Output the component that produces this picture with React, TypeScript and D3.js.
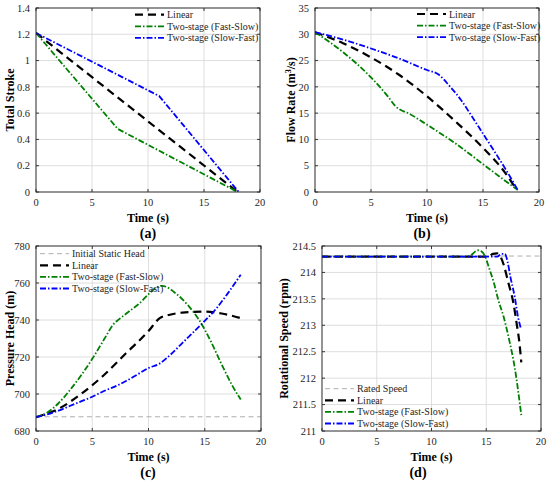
import React from 'react'
import * as d3 from 'd3'

type Pt = [number, number]

// time axis shared by all four panels
const timeTicks = [0, 5, 10, 15, 20]

// (a) total stroke
const strokeTicks = [0, 0.2, 0.4, 0.6, 0.8, 1, 1.2, 1.4]
const strokeLinear: Pt[] = [[0, 1.21], [18, 0]]
const strokeFastSlow: Pt[] = [[0, 1.21], [7.3, 0.48], [18, 0]]
const strokeSlowFast: Pt[] = [[0, 1.21], [11, 0.73], [18.1, 0]]

// (b) flow rate
const flowTicks = [0, 5, 10, 15, 20, 25, 30, 35]
const flowLinear: Pt[] = [
  [0, 30.4], [2.5, 28.3], [5, 25.6], [7.5, 22.3], [10, 18.2],
  [12.5, 13.5], [15, 8.4], [17, 3.6], [18, 0.4],
]
const flowFastSlow: Pt[] = [
  [0, 30.4], [2.5, 26.6], [5, 21.8], [6.5, 18.2], [7.2, 16.3], [8.5, 14.8],
  [10, 12.8], [12.5, 9.3], [15, 5.3], [17, 2.1], [18.1, 0.4],
]
const flowSlowFast: Pt[] = [
  [0, 30.4], [2.5, 29.0], [5, 27.3], [7.5, 25.4], [10, 23.2], [11, 22.4],
  [12, 20.2], [13, 17.6], [14, 14.4], [15, 11.1], [16, 7.8], [17, 4.4], [18.1, 0.4],
]

// (c) pressure head
const headTicks = [680, 700, 720, 740, 760, 780]
const initialHead: Pt[] = [[0, 687.7], [20, 687.7]]
const headLinear: Pt[] = [
  [0, 687.5], [2, 692], [4, 700], [6, 710], [8, 722], [10, 734], [11, 741],
  [12, 743], [13, 744], [15, 744.5], [16.5, 743.5], [18.2, 741],
]
const headFastSlow: Pt[] = [
  [0, 687.5], [1, 690], [2, 695], [3, 702], [4, 710], [5, 719], [6, 729],
  [7, 738.5], [7.4, 740.5], [9, 748], [11.2, 758.5], [12.5, 754], [13.5, 748],
  [14.5, 740], [15.5, 729], [16.5, 716], [17.5, 704], [18.2, 697],
]
const headSlowFast: Pt[] = [
  [0, 687.5], [1, 689], [2, 691], [3, 693.5], [4, 696], [5, 698.5], [6, 701.5],
  [7, 704], [8, 707], [9, 710.5], [10, 714], [11, 716.5], [12, 721.5],
  [13, 727.5], [14, 733.5], [15, 739.5], [16, 746], [17, 754], [18.2, 764.5],
]

// (d) rotational speed
const speedTicks = [211, 211.5, 212, 212.5, 213, 213.5, 214, 214.5]
const ratedSpeed: Pt[] = [[0, 214.31], [20, 214.31]]
const speedLinear: Pt[] = [
  [0, 214.3], [15.2, 214.3], [15.6, 214.35], [16.0, 214.36], [16.3, 214.3],
  [16.6, 214.14], [17, 213.82], [17.5, 213.4], [17.8, 213.0], [18, 212.72], [18.2, 212.3],
]
const speedFastSlow: Pt[] = [
  [0, 214.3], [13.4, 214.3], [13.8, 214.36], [14.2, 214.42], [14.6, 214.39],
  [14.9, 214.3], [15.2, 214.12], [15.7, 213.8], [16.1, 213.48], [16.6, 213.15],
  [17.1, 212.72], [17.6, 212.2], [18.2, 211.3],
]
const speedSlowFast: Pt[] = [
  [0, 214.3], [16.0, 214.3], [16.4, 214.35], [16.7, 214.35], [16.95, 214.2],
  [17.2, 213.92], [17.6, 213.54], [17.9, 213.16], [18.15, 212.95],
]

const FONT = '"Liberation Serif", "Times New Roman", serif'
const GREEN = '#008000'
const BLUE = '#0000ff'

const styles = {
  gray: { stroke: '#a6a6a6', width: 0.9, dash: '5,3.5' },
  linear: { stroke: '#000', width: 2.2, dash: '8,5' },
  fastSlow: { stroke: GREEN, width: 1.8, dash: '6,2,1.5,2' },
  slowFast: { stroke: BLUE, width: 1.8, dash: '6,2,1.5,2' },
}

type Style = { stroke: string; width: number; dash: string }
type Series = { label: string; data: Pt[]; style: Style }

interface PanelProps {
  box: { left: number; top: number; right: number; bottom: number }
  yDomain: [number, number]
  yTicks: number[]
  yLabel: React.ReactNode
  yLabelX: number
  caption: string
  captionX: number
  series: Series[]
  legendX: number
  legendY: number
  curve: d3.CurveFactory
}

function Panel({
  box, yDomain, yTicks, yLabel, yLabelX, caption, captionX, series, legendX, legendY, curve,
}: PanelProps) {
  const x = d3.scaleLinear().domain([0, 20]).range([box.left, box.right])
  const y = d3.scaleLinear().domain(yDomain).range([box.bottom, box.top])
  const line = d3.line<Pt>().x((d) => x(d[0])).y((d) => y(d[1])).curve(curve)
  const midY = (box.top + box.bottom) / 2
  const tl = 3

  return (
    <g>
      {/* grid */}
      {timeTicks.map((t) => (
        <line key={`gx${t}`} x1={x(t)} x2={x(t)} y1={box.top} y2={box.bottom} stroke="#dadada" strokeWidth={0.9} />
      ))}
      {yTicks.map((v) => (
        <line key={`gy${v}`} x1={box.left} x2={box.right} y1={y(v)} y2={y(v)} stroke="#dadada" strokeWidth={0.9} />
      ))}

      {/* series */}
      <defs>
        <clipPath id={`clip-${caption}`}>
          <rect x={box.left} y={box.top} width={box.right - box.left} height={box.bottom - box.top} />
        </clipPath>
      </defs>
      <g clipPath={`url(#clip-${caption})`}>
        {series.map((s) => (
          <path
            key={s.label}
            d={line(s.data) || ''}
            fill="none"
            stroke={s.style.stroke}
            strokeWidth={s.style.width}
            strokeDasharray={s.style.dash}
          />
        ))}
      </g>

      {/* box and inward ticks */}
      <rect x={box.left} y={box.top} width={box.right - box.left} height={box.bottom - box.top} fill="none" stroke="#262626" strokeWidth={0.9} />
      {timeTicks.map((t) => (
        <g key={`tx${t}`}>
          <line x1={x(t)} x2={x(t)} y1={box.bottom} y2={box.bottom - tl} stroke="#262626" strokeWidth={0.9} />
          <line x1={x(t)} x2={x(t)} y1={box.top} y2={box.top + tl} stroke="#262626" strokeWidth={0.9} />
          <text x={x(t)} y={box.bottom + 14} textAnchor="middle" fontSize={10.5} fill="#262626">{t}</text>
        </g>
      ))}
      {yTicks.map((v) => (
        <g key={`ty${v}`}>
          <line x1={box.left} x2={box.left + tl} y1={y(v)} y2={y(v)} stroke="#262626" strokeWidth={0.9} />
          <line x1={box.right} x2={box.right - tl} y1={y(v)} y2={y(v)} stroke="#262626" strokeWidth={0.9} />
          <text x={box.left - 6} y={y(v)} dy="0.35em" textAnchor="end" fontSize={10.5} fill="#262626">
            {String(+v.toFixed(2))}
          </text>
        </g>
      ))}

      {/* labels */}
      <text x={(box.left + box.right) / 2} y={box.bottom + 30} textAnchor="middle" fontSize={12} fontWeight="bold">
        Time (s)
      </text>
      <text transform={`translate(${yLabelX + 4},${midY}) rotate(-90)`} textAnchor="middle" fontSize={12} fontWeight="bold">
        {yLabel}
      </text>
      <text x={captionX} y={box.bottom + 46} textAnchor="middle" fontSize={14} fontWeight="bold">
        ({caption})
      </text>

      {/* legend */}
      {series.map((s, i) => {
        const ly = legendY + i * 11.6
        return (
          <g key={`lg${s.label}`}>
            <line x1={legendX} x2={legendX + 29} y1={ly} y2={ly} stroke={s.style.stroke} strokeWidth={s.style.width} strokeDasharray={s.style.dash} />
            <text x={legendX + 32} y={ly} dy="0.35em" fontSize={10} fill="#262626">{s.label}</text>
          </g>
        )
      })}
    </g>
  )
}

export default function App() {
  const trio = (lin: Pt[], fs: Pt[], sf: Pt[]): Series[] => [
    { label: 'Linear', data: lin, style: styles.linear },
    { label: 'Two-stage (Fast-Slow)', data: fs, style: styles.fastSlow },
    { label: 'Two-stage (Slow-Fast)', data: sf, style: styles.slowFast },
  ]

  return (
    <svg
      width={550}
      height={484}
      style={{ position: 'absolute', left: 0, top: 0, background: '#fff' }}
      fontFamily={FONT}
    >
      <Panel
        box={{ left: 36, top: 8, right: 260, bottom: 192 }}
        yDomain={[0, 1.4]}
        yTicks={strokeTicks}
        yLabel="Total Stroke"
        yLabelX={10}
        caption="a"
        captionX={148}
        series={trio(strokeLinear, strokeFastSlow, strokeSlowFast)}
        legendX={135}
        legendY={14.7}
        curve={d3.curveLinear}
      />
      <Panel
        box={{ left: 315, top: 8, right: 539, bottom: 192 }}
        yDomain={[0, 35]}
        yTicks={flowTicks}
        yLabel={
          <>
            Flow Rate (m<tspan dy={-4} fontSize={8}>3</tspan>
            <tspan dy={4}>/s)</tspan>
          </>
        }
        yLabelX={291}
        caption="b"
        captionX={422}
        series={trio(flowLinear, flowFastSlow, flowSlowFast)}
        legendX={417}
        legendY={14}
        curve={d3.curveMonotoneX}
      />
      <Panel
        box={{ left: 36, top: 246, right: 261, bottom: 431 }}
        yDomain={[680, 780]}
        yTicks={headTicks}
        yLabel="Pressure Head (m)"
        yLabelX={10}
        caption="c"
        captionX={148}
        series={[
          { label: 'Initial Static Head', data: initialHead, style: styles.gray },
          ...trio(headLinear, headFastSlow, headSlowFast),
        ]}
        legendX={40}
        legendY={253.7}
        curve={d3.curveMonotoneX}
      />
      <Panel
        box={{ left: 322, top: 246, right: 541, bottom: 431 }}
        yDomain={[211, 214.5]}
        yTicks={speedTicks}
        yLabel="Rotational Speed (rpm)"
        yLabelX={284}
        caption="d"
        captionX={418}
        series={[
          { label: 'Rated Speed', data: ratedSpeed, style: styles.gray },
          ...trio(speedLinear, speedFastSlow, speedSlowFast),
        ]}
        legendX={325}
        legendY={388.7}
        curve={d3.curveMonotoneX}
      />
    </svg>
  )
}
